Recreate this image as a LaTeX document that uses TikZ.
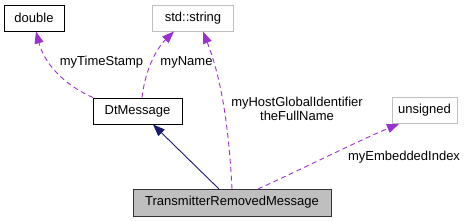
\documentclass[tikz,border=0pt]{standalone}
\usepackage{fontspec}
\setmainfont{Liberation Sans}
\usetikzlibrary{arrows.meta}
\definecolor{dep}{HTML}{9A32CD}
\definecolor{inh}{HTML}{191970}
\definecolor{lgray}{HTML}{BFBFBF}
\tikzset{
  x=1pt, y=-1pt,
  every node/.style={font=\fontsize{13}{14}\selectfont, inner sep=0pt},
  cls/.style={draw=black, line width=0.9pt, fill=white, minimum height=26pt},
  ext/.style={draw=lgray, line width=0.9pt, fill=white, minimum height=26pt},
  cur/.style={draw=black!80, line width=0.9pt, fill=lgray, minimum height=27pt},
  depedge/.style={draw=dep, line width=0.9pt, dash pattern=on 5pt off 3.5pt, -{Triangle[length=12pt,width=9pt,fill=dep]}},
  inhedge/.style={draw=inh, line width=0.9pt, -{Triangle[length=12pt,width=9pt,fill=inh]}},
  lbl/.style={text=black}
}
\begin{document}
\begin{tikzpicture}
\useasboundingbox (0,0) rectangle (473,221);
\node[cls, minimum width=60pt] (double) at (34,18) {double};
\node[ext, minimum width=81pt] (string) at (193,18) {std::string};
\node[cls, minimum width=89pt] (dtm) at (137.5,111) {DtMessage};
\node[ext, minimum width=65pt] (unsigned) at (424.5,110.5) {unsigned};
\node[cur, minimum width=198pt] (trm) at (232,202.5) {TransmitterRemovedMessage};

\coordinate (d1) at (93,97.5);
\coordinate (d2) at (142,97.5);
\coordinate (t1) at (219,189);
\coordinate (t2) at (232,189);
\coordinate (t3) at (258,189);

\draw[depedge] (d1) .. controls (62,84) and (44,62) .. (double.south -| 36,0);
\draw[depedge] (d2) .. controls (145,72) and (155,50) .. (string.south -| 174,0);
\draw[depedge] (t2) .. controls (229,130) and (222,80) .. (string.south -| 203,0);
\draw[depedge] (t3) .. controls (300,170) and (360,140) .. (unsigned.south -| 399,0);
\draw[inhedge] (t1) -- (dtm.south -| 153,0);

\node[lbl] (l1) at (101.5,62) {myTimeStamp};
\node[lbl] (l2) at (186.5,62) {myName};
\node[lbl, align=center] (l3) at (297,109) {myHostGlobalIdentifier\\theFullName};
\node[lbl] (l4) at (404,157) {myEmbeddedIndex};
\end{tikzpicture}
\end{document}
